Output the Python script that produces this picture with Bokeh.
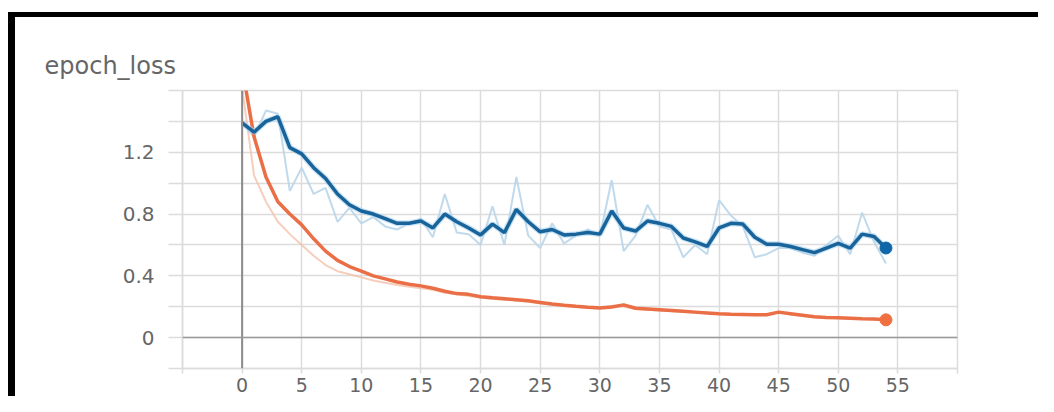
from bokeh.plotting import figure
from bokeh.models import Range1d, FixedTicker, Span, InlineStyleSheet
from bokeh.embed import file_html
from bokeh.resources import INLINE

# ---- data ----
epochs = list(range(55))

val_smooth = [1.39, 1.33, 1.40, 1.43, 1.23, 1.19, 1.10, 1.03, 0.93, 0.86,
              0.82, 0.80, 0.77, 0.74, 0.74, 0.755, 0.71, 0.80, 0.75, 0.71,
              0.665, 0.735, 0.68, 0.83, 0.75, 0.685, 0.70, 0.665, 0.67, 0.68,
              0.67, 0.82, 0.71, 0.69, 0.755, 0.74, 0.72, 0.645, 0.62, 0.59,
              0.71, 0.74, 0.735, 0.65, 0.605, 0.605, 0.59, 0.57, 0.55, 0.58,
              0.61, 0.58, 0.67, 0.655, 0.58]
val_raw = [1.39, 1.30, 1.47, 1.45, 0.95, 1.10, 0.93, 0.97, 0.75, 0.84,
           0.74, 0.78, 0.72, 0.70, 0.74, 0.77, 0.65, 0.93, 0.68, 0.67,
           0.60, 0.85, 0.60, 1.04, 0.66, 0.58, 0.74, 0.61, 0.66, 0.70,
           0.66, 1.02, 0.56, 0.66, 0.86, 0.72, 0.70, 0.52, 0.60, 0.54,
           0.89, 0.79, 0.72, 0.52, 0.54, 0.58, 0.58, 0.55, 0.53, 0.60,
           0.66, 0.54, 0.81, 0.62, 0.48]

train_smooth = [1.75, 1.30, 1.04, 0.88, 0.80, 0.73, 0.64, 0.56, 0.50, 0.46,
                0.43, 0.40, 0.38, 0.36, 0.345, 0.335, 0.32, 0.30, 0.285, 0.28,
                0.265, 0.258, 0.252, 0.245, 0.238, 0.228, 0.218, 0.21, 0.203, 0.197,
                0.192, 0.198, 0.212, 0.19, 0.185, 0.18, 0.175, 0.17, 0.165, 0.16,
                0.155, 0.152, 0.15, 0.148, 0.148, 0.165, 0.155, 0.145, 0.135, 0.13,
                0.128, 0.125, 0.122, 0.12, 0.115]
train_raw = [1.62, 1.05, 0.88, 0.75, 0.67, 0.60, 0.53, 0.47, 0.43, 0.41,
             0.39, 0.37, 0.355, 0.34, 0.33, 0.32, 0.31, 0.29, 0.28, 0.27,
             0.26, 0.25, 0.245, 0.24, 0.232, 0.222, 0.212, 0.205, 0.198, 0.193,
             0.19, 0.205, 0.20, 0.185, 0.18, 0.176, 0.172, 0.166, 0.162, 0.157,
             0.153, 0.15, 0.148, 0.146, 0.15, 0.168, 0.15, 0.14, 0.132, 0.128,
             0.126, 0.123, 0.12, 0.118, 0.113]

x_major = [0, 5, 10, 15, 20, 25, 30, 35, 40, 45, 50, 55]
x_minor = [-5, 60]
y_major = [0, 0.4, 0.8, 1.2]
y_minor = [-0.2, 0.2, 0.6, 1.0, 1.4, 1.6]

title_text = "epoch_loss"

# ---- figure ----
FONT = "DejaVu Sans"
TXT = "#666666"
GRID = "#dcdcdc"

frame_css = InlineStyleSheet(css="""
:host::before { content: ""; position: absolute; left: 8px; top: 12px;
  right: 0px; height: 5px; background: #000; z-index: 10; pointer-events: none; }
:host::after { content: ""; position: absolute; left: 8px; top: 12px;
  width: 7px; bottom: 0px; background: #000; z-index: 10; pointer-events: none; }
""")

p = figure(width=1038, height=396, output_backend="svg", toolbar_location=None,
           x_range=Range1d(-5, 60), y_range=Range1d(-0.2, 1.6),
           min_border_left=182, min_border_right=81, min_border_top=90,
           min_border_bottom=28, title=title_text)
p.stylesheets = [frame_css]

p.title.text_font = FONT
p.title.text_font_size = "24px"
p.title.text_font_style = "normal"
p.title.text_color = TXT
p.title.align = "left"
p.title.offset = -138
p.title.standoff = 22

p.background_fill_color = "white"
p.border_fill_color = "white"
p.outline_line_color = GRID
p.outline_line_width = 1.5

p.xaxis.ticker = FixedTicker(ticks=x_major, minor_ticks=x_minor)
p.yaxis.ticker = FixedTicker(ticks=y_major, minor_ticks=y_minor)

for ax in (p.xaxis, p.yaxis):
    ax.axis_line_color = GRID
    ax.axis_line_width = 1.5
    ax.major_tick_line_color = GRID
    ax.minor_tick_line_color = GRID
    ax.major_tick_line_width = 1.5
    ax.minor_tick_line_width = 1.5
    ax.major_label_text_font = FONT
    ax.major_label_text_font_size = "20px"
    ax.major_label_text_color = TXT

p.yaxis.major_tick_in = 0
p.yaxis.minor_tick_in = 0
p.yaxis.major_tick_out = 14
p.yaxis.minor_tick_out = 14
p.yaxis.major_label_standoff = 14

p.xaxis.major_tick_in = 0
p.xaxis.minor_tick_in = 0
p.xaxis.major_tick_out = 5
p.xaxis.minor_tick_out = 5
p.xaxis.major_label_standoff = 4
p.xaxis.major_label_text_font_size = "19px"

for g in (p.xgrid, p.ygrid):
    g.grid_line_color = GRID
    g.grid_line_width = 1.5
    g.minor_grid_line_color = GRID
    g.minor_grid_line_width = 1.5

p.add_layout(Span(location=0, dimension="height", line_color="#8c8c8c", line_width=2))
p.add_layout(Span(location=0, dimension="width", line_color="#9a9a9a", line_width=1.5))

# raw (light) lines
p.line(epochs, train_raw, line_color="#f4c2ab", line_width=2, line_alpha=0.8)
p.line(epochs, val_raw, line_color="#b9d6ea", line_width=2, line_alpha=0.9)

# smoothed lines
p.line(epochs, train_smooth, line_color="#ea6f46", line_width=3.5)
p.line(epochs, val_smooth, line_color="#a9d2ee", line_width=6, line_alpha=0.6)
p.line(epochs, val_smooth, line_color="#17639a", line_width=3.5)

# end dots
p.scatter([epochs[-1]], [train_smooth[-1]], size=12, color="#f07040")
p.scatter([epochs[-1]], [val_smooth[-1]], size=12, color="#0f66a8")

open("out.html", "w").write(file_html(p, INLINE))
